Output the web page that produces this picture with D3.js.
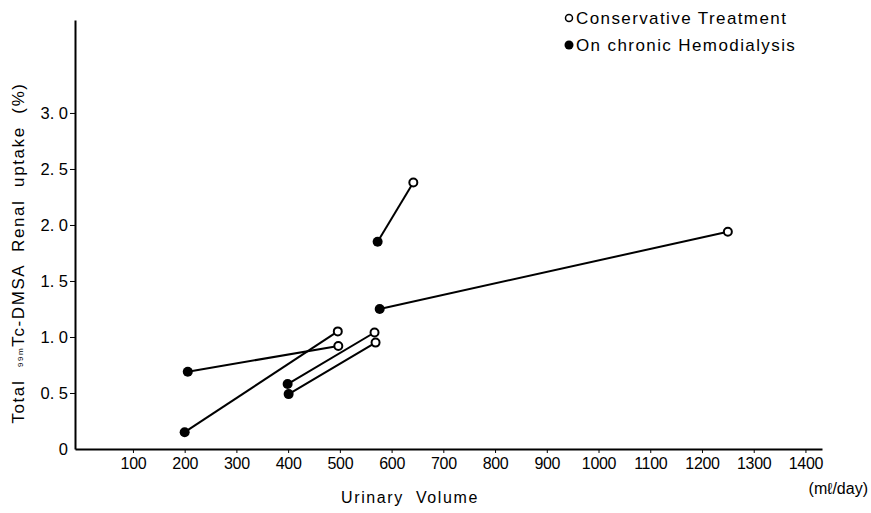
<!DOCTYPE html>
<html><head><meta charset="utf-8">
<script src="https://cdn.jsdelivr.net/npm/d3@7"></script>
<style>body{margin:0;background:#fff}svg{display:block}text{font-family:"Liberation Sans",Arial,sans-serif;fill:#000}</style>
</head><body>
<script>
// Data: each pair links a patient on hemodialysis (filled) to conservative treatment (open)
const hemoVolume   = [200, 206, 399, 401, 573, 577];
const hemoUptake   = [0.15, 0.69, 0.58, 0.49, 1.85, 1.25];
const consVolume   = [496, 497, 567, 569, 642, 1250];
const consUptake   = [1.05, 0.92, 1.04, 0.95, 2.38, 1.94];
const xTicks = [100,200,300,400,500,600,700,800,900,1000,1100,1200,1300,1400];
const yTicks = [0, 0.5, 1.0, 1.5, 2.0, 2.5, 3.0];
const yTickLabels = ["0","0. 5","1. 0","1. 5","2. 0","2. 5","3. 0"];
const legendLabels = ["Conservative Treatment","On chronic Hemodialysis"];

const W = 871, H = 513;
const svg = d3.select("body").append("svg").attr("width", W).attr("height", H);
const x = d3.scaleLinear().domain([-12, 1432]).range([75, 822]);
const y = d3.scaleLinear().domain([0, 3.83]).range([449, 20]);

// axes
const xAxis = svg.append("g").attr("transform", `translate(0,${y(0)})`)
  .call(d3.axisBottom(x).tickValues(xTicks).tickFormat(d3.format("d")).tickSize(4).tickSizeOuter(0).tickPadding(5));
xAxis.select(".domain").attr("stroke-width", 2);
xAxis.selectAll("text").attr("font-size", 16).attr("letter-spacing", -0.3);
const yAxis = svg.append("g").attr("transform", `translate(${x(-12)},0)`)
  .call(d3.axisLeft(y).tickValues(yTicks).tickFormat((d,i)=>yTickLabels[i]).tickSize(5).tickSizeOuter(0).tickPadding(2));
yAxis.select(".domain").attr("stroke-width", 2);
yAxis.selectAll("text").attr("font-size", 16.5).attr("xml:space","preserve");
yAxis.selectAll(".tick").filter(d=>d===0).select("line").remove();

// connecting lines
const pairs = hemoVolume.map((v,i)=>({x1:v,y1:hemoUptake[i],x2:consVolume[i],y2:consUptake[i]}));
svg.append("g").selectAll("line").data(pairs).join("line")
  .attr("x1",d=>x(d.x1)).attr("y1",d=>y(d.y1)).attr("x2",d=>x(d.x2)).attr("y2",d=>y(d.y2))
  .attr("stroke","#000").attr("stroke-width",2);
// markers
svg.append("g").selectAll("circle").data(pairs).join("circle")
  .attr("cx",d=>x(d.x1)).attr("cy",d=>y(d.y1)).attr("r",5).attr("fill","#000");
svg.append("g").selectAll("circle").data(pairs).join("circle")
  .attr("cx",d=>x(d.x2)).attr("cy",d=>y(d.y2)).attr("r",4).attr("fill","#fff").attr("stroke","#000").attr("stroke-width",2);

// legend
const lg = svg.append("g");
lg.append("circle").attr("cx",569).attr("cy",18).attr("r",3.5).attr("fill","#fff").attr("stroke","#000").attr("stroke-width",1.5);
lg.append("text").attr("x",576).attr("y",24).attr("font-size",17).attr("letter-spacing",1.4).text(legendLabels[0]);
lg.append("circle").attr("cx",569).attr("cy",45).attr("r",4.5).attr("fill","#000");
lg.append("text").attr("x",576).attr("y",51).attr("font-size",17).attr("letter-spacing",1.4).text(legendLabels[1]);

// axis titles
svg.append("text").attr("x",410).attr("y",503).attr("text-anchor","middle").attr("font-size",16)
  .attr("letter-spacing",1.6).attr("xml:space","preserve").text("Urinary  Volume");
svg.append("text").attr("x",868).attr("y",494).attr("text-anchor","end").attr("font-size",16).text("(mℓ/day)");
const yl = svg.append("text").attr("transform","translate(24,253) rotate(-90)").attr("text-anchor","middle")
  .attr("font-size",17).attr("letter-spacing",1.6).attr("xml:space","preserve");
yl.append("tspan").text("Total  ");
yl.append("tspan").attr("font-size",8).attr("dy",-1).text("99m");
yl.append("tspan").attr("dy",1).text("Tc-DMSA  Renal  uptake  (%)");
</script>
</body></html>
